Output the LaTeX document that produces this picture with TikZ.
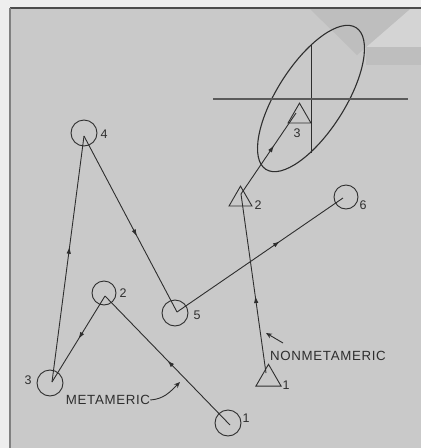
\documentclass[tikz,border=0pt]{standalone}
\usepackage{fontspec}
\setmainfont{Liberation Sans}
\newfontfamily\labfont[LetterSpace=5]{Liberation Sans}
\usetikzlibrary{arrows.meta,decorations.markings,shapes.geometric}
\definecolor{inkc}{HTML}{2E2E2E}
\definecolor{pagebg}{HTML}{C9C9C9}
\definecolor{paper}{HTML}{EEEEEE}
\definecolor{shadetri}{HTML}{BEBEBE}
\definecolor{lightcorner}{HTML}{D4D4D4}
\definecolor{axisc}{HTML}{5A5A5A}
\begin{document}
\begin{tikzpicture}[x=1pt,y=-1pt,
  ink/.style={draw=inkc, line width=0.9pt},
  ring/.style={circle, draw=inkc, line width=0.9pt, minimum size=#1, inner sep=0pt},
  tri/.style={regular polygon, regular polygon sides=3, draw=inkc, line width=0.9pt, minimum size=#1, inner sep=0pt},
  lab/.style={font=\fontsize{12.5}{14}\selectfont, text=inkc, inner sep=0pt},
  wordlab/.style={font=\labfont\fontsize{13.3}{15}\selectfont, text=inkc, inner sep=0pt},
  midarrow/.style={postaction={decorate}, decoration={markings, mark=at position #1 with {\arrow{Latex[length=7pt,width=4.5pt]}}}},
  tipa/.style={-{Stealth[length=6pt,width=5pt]}},
]
\useasboundingbox (0,0) rectangle (421,448);
% page background
\fill[paper] (0,0) rectangle (421,448);
\fill[pagebg] (10,8) rectangle (421,448);
\fill[lightcorner] (410,9) -- (421,9) -- (421,47) -- (366,47) -- cycle;
\fill[shadetri] (310,9) -- (410,9) -- (357,55) -- cycle;
\fill[shadetri] (366,47) rectangle (421,65);
\draw[draw=black!70, line width=1.2pt] (10,8) -- (421,8);
\draw[draw=black!50, line width=1.2pt] (10,8) -- (10,448);

% ellipse and axes
\draw[ink, line width=1.1pt, shift={(311,98.5)}, rotate=57.5] (0,0) ellipse [x radius=84, y radius=34];
\coordinate (vt) at (311,44.5);
\coordinate (vb) at (311,152.5);
\draw[ink, line width=0.7pt] (vt) -- (vb);
\coordinate (hl) at (213,99);
\coordinate (hr) at (408,99);
\draw[draw=axisc, line width=1.3pt] (hl) -- (hr);

% circles (metameric)
\node[ring=26pt] (c1) at (228,423) {};
\node[ring=24pt] (c2) at (104,293) {};
\node[ring=26pt] (c3) at (50,383) {};
\node[ring=26pt] (c4) at (84,133) {};
\node[ring=26pt] (c5) at (175,313) {};
\node[ring=24pt] (c6) at (346,197) {};

% triangles (nonmetameric)
\node[tri=29pt] (t1) at (268.5,378.8) {};
\node[tri=26.5pt] (t2) at (240.5,199.4) {};
\node[tri=26.5pt] (t3) at (299.5,116.4) {};

% path vertices
\coordinate (v1) at (230,425);
\coordinate (v2) at (105,296);
\coordinate (v3) at (52,382);
\coordinate (v4) at (84,136);
\coordinate (v5) at (177,312);
\coordinate (v6) at (343,198);
\coordinate (w1) at (266,373);
\coordinate (w2) at (241,194);
\coordinate (w3) at (296,113);

\draw[ink, midarrow=0.5] (v1) -- (v2);
\draw[ink, midarrow=0.5] (v2) -- (v3);
\draw[ink, midarrow=0.55] (v3) -- (v4);
\draw[ink, midarrow=0.57] (v4) -- (v5);
\draw[ink, midarrow=0.62] (v5) -- (v6);
\draw[ink, midarrow=0.43] (w1) -- (w2);
\draw[ink, midarrow=0.6] (w2) -- (w3);

% number labels
\node[lab] (n1) at (246,418) {1};
\node[lab] (n2) at (123,293) {2};
\node[lab] (n3) at (28,380) {3};
\node[lab] (n4) at (104,134) {4};
\node[lab] (n5) at (197,315) {5};
\node[lab] (n6) at (363,205) {6};
\node[lab] (m1) at (286,385) {1};
\node[lab] (m2) at (258,205) {2};
\node[lab] (m3) at (297,133) {3};

% word labels
\node[wordlab] (met) at (108,400) {METAMERIC};
\node[wordlab] (non) at (328,356) {NONMETAMERIC};
\coordinate (ma) at (180,382);
\draw[ink, tipa] (met.east) .. controls (164,399) and (170,392) .. (ma);
\coordinate (nb) at (283,343);
\coordinate (na) at (266,333);
\draw[ink, tipa] (nb) -- (na);
\end{tikzpicture}
\end{document}
